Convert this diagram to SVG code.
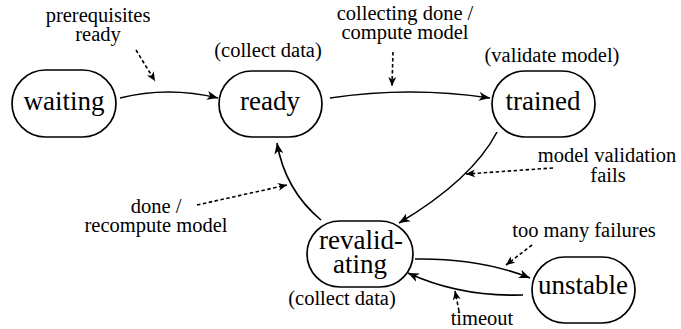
<svg xmlns="http://www.w3.org/2000/svg" width="681" height="329" viewBox="0 0 681 329">
<defs>
<marker id="ah" markerWidth="12" markerHeight="10" refX="11" refY="5" orient="auto" markerUnits="userSpaceOnUse">
<path d="M0,0.5 L11,5 L0,9.5 L3,5 z" fill="#000"/>
</marker>
<marker id="ahd" markerWidth="10" markerHeight="9" refX="9" refY="4.5" orient="auto" markerUnits="userSpaceOnUse">
<path d="M0,0.5 L9,4.5 L0,8.5 L2.5,4.5 z" fill="#000"/>
</marker>
</defs>
<style>
.node rect{fill:#fff;stroke:#000;stroke-width:1.7}
.nt{font-family:'Liberation Serif','DejaVu Serif',serif;font-size:27px;fill:#000;text-anchor:middle}
.lb{font-family:'Liberation Serif','DejaVu Serif',serif;font-size:20.5px;fill:#000;text-anchor:middle}
.edge{fill:none;stroke:#000;stroke-width:1.6;marker-end:url(#ah)}
.ann{fill:none;stroke:#000;stroke-width:1.6;stroke-dasharray:3.5,2.5;marker-end:url(#ahd)}
</style>
<g id="connectors">
<path class="edge" d="M120,98 Q168,86 218,98"/>
<path class="edge" d="M330,98 Q410,86 490,98"/>
<path class="edge" d="M497,132 C485,155 458,188 399,223"/>
<path class="edge" d="M321,220 Q285,190 277,143"/>
<path class="edge" d="M415,259 Q480,258 530,278"/>
<path class="edge" d="M523,295 Q460,297 408,273"/>
</g>
<g id="annotations">
<path class="ann" d="M136,50 L155,81"/>
<path class="ann" d="M393,52 L392,86"/>
<path class="ann" d="M553,168 L466,174"/>
<path class="ann" d="M197,205 L287,185"/>
<path class="ann" d="M532,245 L506,265"/>
<path class="ann" d="M459,311 L455,291"/>
</g>
<g id="waiting" class="node">
<rect x="12" y="70" width="104" height="67" rx="33.5"/>
<text class="nt" x="64" y="110">waiting</text>
</g>
<g id="ready" class="node">
<rect x="219" y="71" width="103" height="66" rx="33"/>
<text class="nt" x="270" y="110">ready</text>
<text class="lb" x="268" y="57">(collect data)</text>
</g>
<g id="trained" class="node">
<rect x="492" y="71" width="103" height="66" rx="33"/>
<text class="nt" x="543" y="110">trained</text>
<text class="lb" x="552" y="62">(validate model)</text>
</g>
<g id="revalidating" class="node">
<rect x="307" y="221" width="106" height="66" rx="33"/>
<text class="nt"><tspan x="361" y="249">revalid-</tspan><tspan x="360" y="273">ating</tspan></text>
<text class="lb" x="342" y="305">(collect data)</text>
</g>
<g id="unstable" class="node">
<rect x="532" y="257" width="103" height="66" rx="33"/>
<text class="nt" x="583" y="294">unstable</text>
</g>
<g id="labels">
<text class="lb"><tspan x="98" y="22">prerequisites</tspan><tspan x="98" y="41">ready</tspan></text>
<text class="lb"><tspan x="405" y="20">collecting done /</tspan><tspan x="405" y="39">compute model</tspan></text>
<text class="lb"><tspan x="607" y="162">model validation</tspan><tspan x="608" y="182">fails</tspan></text>
<text class="lb"><tspan x="156" y="213">done /</tspan><tspan x="156" y="232">recompute model</tspan></text>
<text class="lb" x="584" y="237">too many failures</text>
<text class="lb" x="482" y="325">timeout</text>
</g>
</svg>
